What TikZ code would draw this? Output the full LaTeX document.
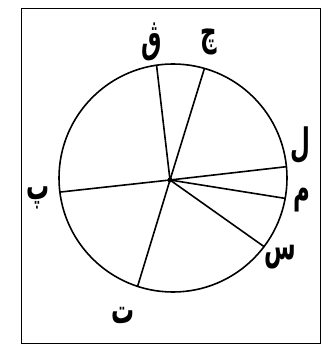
\documentclass[tikz,border=0pt]{standalone}
\usepackage{fontspec}
\newfontfamily\arabicfont[Script=Arabic]{DejaVu Sans}
\TeXXeTstate=1
\newcommand{\arl}[1]{\scalebox{0.85}[1.45]{\beginR #1\endR}}
\begin{document}
\begin{tikzpicture}[x=1pt,y=-1pt,
  spoke/.style={line width=1.6pt},
  lbl/.style={font=\arabicfont\bfseries\fontsize{27}{27}\selectfont, inner sep=0pt}]
\useasboundingbox (0,0) rectangle (327,358);
\node[draw, line width=1.3pt, minimum width=299pt, minimum height=335pt, anchor=north west, inner sep=0pt] (frame) at (21,8) {};
\coordinate (c) at (173,178);
\node[draw, circle, line width=1.6pt, minimum size=228pt, inner sep=0pt] (circ) at (c) {};
\coordinate (hub) at (170,180);
\begin{scope}[shift={(c)}, y=1pt]
  \coordinate (p1) at (98.3:114);
  \coordinate (p2) at (74:114);
  \coordinate (p3) at (5.7:114);
  \coordinate (p4) at (-10.3:114);
  \coordinate (p5) at (-37:114);
  \coordinate (p6) at (-108.1:114);
  \coordinate (p7) at (187.1:114);
\end{scope}
\foreach \p in {p1,p2,p3,p4,p5,p6,p7} \draw[spoke] (hub) -- (\p);
\fill (hub) circle (2.5pt);
\node[lbl] (l1) at (152,42) {\arl{ڨ}};
\node[lbl] (l2) at (209,42) {\arl{چ}};
\node[lbl] (l3) at (300,145) {\arl{ل}};
\node[lbl] (l4) at (302,200) {\arl{م}};
\node[lbl] (l5) at (280,257) {\arl{س}};
\node[lbl] (l6) at (123,315) {\arl{ت}};
\node[lbl] (l7) at (38,198) {\arl{پ}};
\end{tikzpicture}
\end{document}
